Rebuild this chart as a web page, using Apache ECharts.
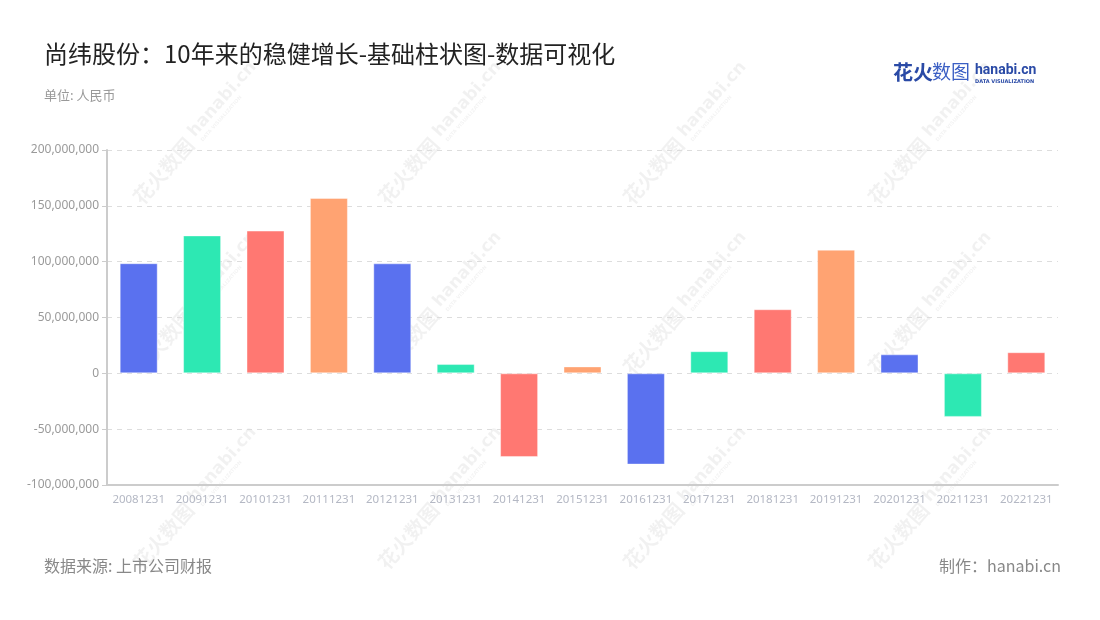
<!DOCTYPE html>
<html><head><meta charset="utf-8">
<script src="https://cdn.jsdelivr.net/npm/echarts@6/dist/echarts.min.js"></script>
<style>html,body{margin:0;padding:0;background:#fff}#c{width:1100px;height:620px}</style>
</head><body><div id="c"></div>
<script>
const categories = ['20081231','20091231','20101231','20111231','20121231','20131231','20141231','20151231','20161231','20171231','20181231','20191231','20201231','20211231','20221231'];
const values = [98600000,123500000,127800000,157000000,98500000,8300000,-74900000,6200000,-81700000,19800000,57400000,110700000,17000000,-39000000,18900000];
const palette = ['#5a71ef','#2de8b3','#ff7872','#ffa372'];
const yTicks = { min: -100000000, max: 200000000, interval: 50000000 };

const FONT = '"Noto Sans CJK SC","Noto Sans",sans-serif';
const chart = echarts.init(document.getElementById('c'), null, {renderer:'canvas'});

const wm = [];
const cols = [195,440,685,930];
const rows = [135,305,500];
rows.forEach(y => cols.forEach(x => {
  wm.push({type:'group', x:x, y:y, rotation: Math.PI*0.27, silent:true, z:100, children:[
    {type:'text', x:-8, y:0, style:{text:'花火数图', fill:'rgba(0,0,0,0.055)', font:'bold 20px '+FONT, textAlign:'right', textVerticalAlign:'middle'}},
    {type:'text', x:-2, y:-3, style:{text:'hanabi.cn', fill:'rgba(0,0,0,0.055)', font:'bold 17px "DejaVu Sans",sans-serif', textAlign:'left', textVerticalAlign:'middle'}},
    {type:'text', x:0, y:9, style:{text:'DATA VISUALIZATION', fill:'rgba(0,0,0,0.05)', font:'bold 5px "DejaVu Sans",sans-serif', textAlign:'left', textVerticalAlign:'middle'}}
  ]});
}));

chart.setOption({
  animation:false,
  textStyle:{fontFamily:FONT},
  title:[
    {text:'尚纬股份：10年来的稳健增长-基础柱状图-数据可视化', left:44, top:42, padding:0, textStyle:{fontSize:24, fontWeight:'normal', color:'#222', fontFamily:FONT}},
    {text:'单位: 人民币', left:44, top:89, padding:0, textStyle:{fontSize:13, fontWeight:'normal', color:'#999', fontFamily:FONT}},
    {text:'数据来源: 上市公司财报', left:44, top:558, padding:0, textStyle:{fontSize:16, fontWeight:'normal', color:'#888', fontFamily:FONT}},
    {text:'制作：hanabi.cn', right:39, top:558, padding:0, textStyle:{fontSize:16, fontWeight:'normal', color:'#888', fontFamily:FONT}}
  ],
  graphic: wm.concat([
    {type:'text', left:893, top:62, style:{text:'花火', fill:'#2a4aa6', font:'bold 20px '+FONT}},
    {type:'text', left:932, top:62, style:{text:'数图', fill:'#3b5fc4', font:'19px '+FONT}},
    {type:'text', left:975, top:63, style:{text:'hanabi.cn', fill:'#2a4aa6', font:'bold 14px Roboto,sans-serif'}},
    {type:'text', left:975, top:79, style:{text:'DATA VISUALIZATION', fill:'#2a4aa6', font:'bold 5px "DejaVu Sans",sans-serif'}}
  ]),
  grid:{left:107, right:42, top:150, bottom:135},
  xAxis:{type:'category', data:categories,
    axisLine:{onZero:false, lineStyle:{color:'#ccc', width:2}},
    axisTick:{alignWithLabel:true, lineStyle:{color:'#ccc'}},
    axisLabel:{color:'#b4b8c4', fontSize:11.5, margin:9, interval:0, fontFamily:'"Noto Sans",sans-serif'}},
  yAxis:{type:'value', min:yTicks.min, max:yTicks.max, interval:yTicks.interval,
    axisLine:{show:true, lineStyle:{color:'#ccc', width:2}},
    axisTick:{show:true, lineStyle:{color:'#ccc'}},
    axisLabel:{color:'#9a9a9a', fontSize:12, margin:8, fontFamily:'"Noto Sans",sans-serif', formatter:v=>v.toLocaleString('en-US')},
    splitLine:{lineStyle:{color:'#ddd', type:[5,5]}}},
  series:[{type:'bar', barWidth:38,
    data: values.map((v,i)=>({value:v, itemStyle:{color:palette[i%palette.length], borderColor:'rgba(255,255,255,0.4)', borderWidth:1}}))}]
});
</script></body></html>
